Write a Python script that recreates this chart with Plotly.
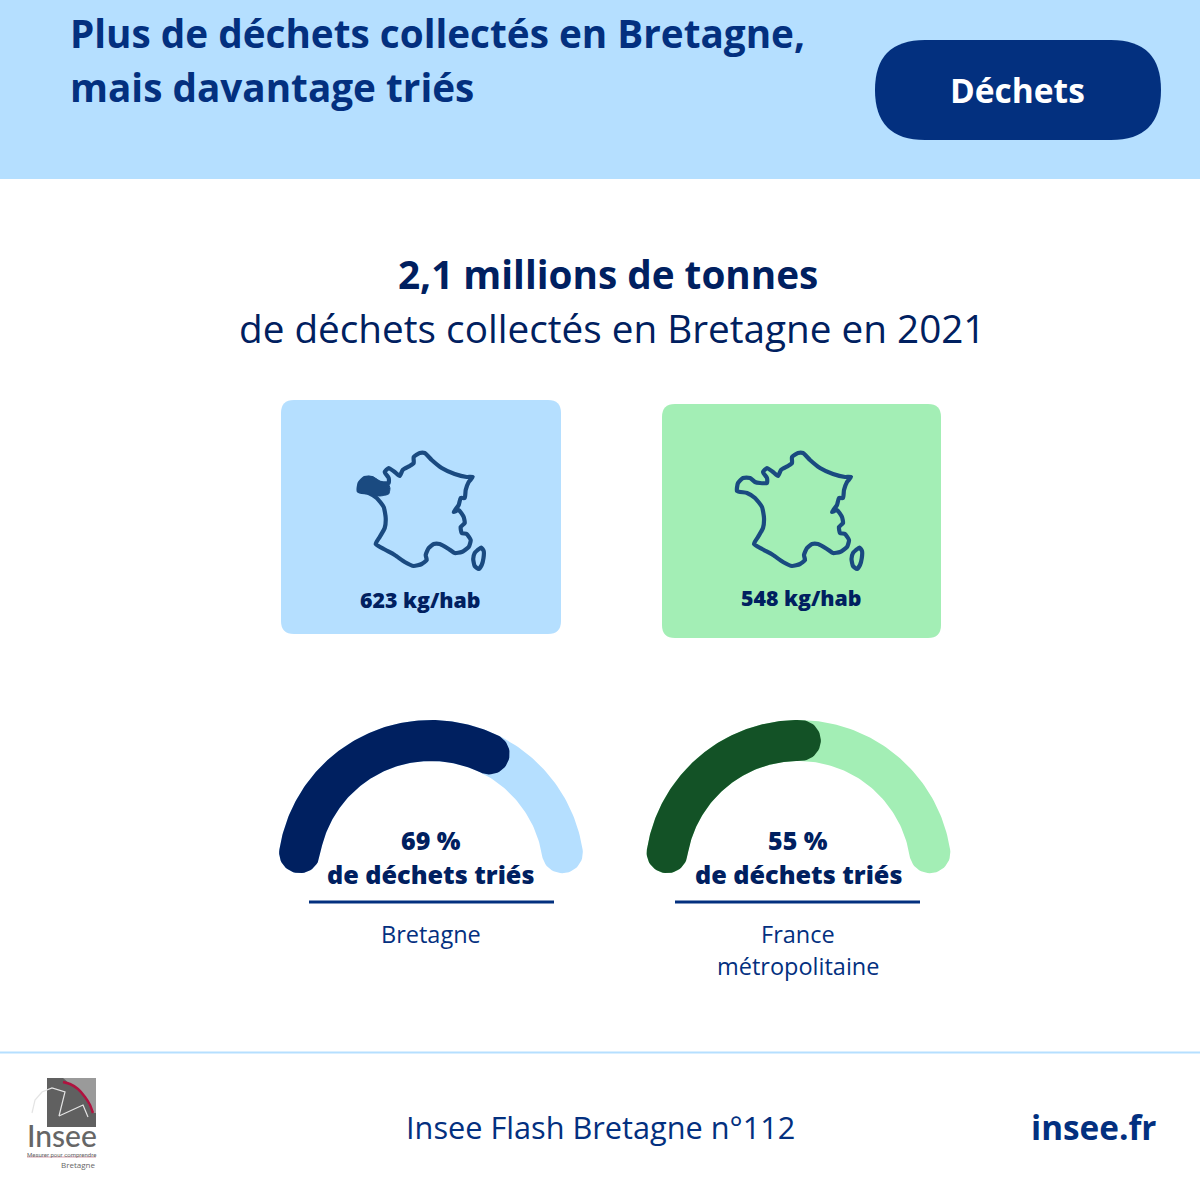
"""Infographic on waste collected in Brittany, redrawn with Plotly."""

import numpy as np
import plotly.graph_objects as go

NAVY = "#002060"
TITLE_BLUE = "#03307F"
MAP_BLUE = "#1A4A80"
LIGHT_BLUE = "#B5DFFF"
LIGHT_GREEN = "#A3EEB5"
DARK_GREEN = "#135226"
FONT = "Open Sans"

# figures shown on the cards and gauges
regions = ["Bretagne", "France<br>métropolitaine"]
kg_per_head = [623, 548]
sorted_pct = [69, 55]
# share of the gauge track actually filled in the picture
gauge_fill = [0.66, 0.505]

# outline of France
france_x = [77, 78, 83, 90, 95, 100, 107, 107, 103, 107, 113, 118, 121, 128, 132, 132, 138, 143, 150, 160, 173, 185, 191,
            187, 184, 183, 179, 177, 172, 177, 182, 183, 179, 180, 185, 189, 187, 180, 173, 167, 158, 152, 147, 144, 145,
            140, 132, 123, 113, 102, 94, 98, 103, 104, 102, 95, 87, 77]
france_y = [91, 83, 78, 78, 82, 83, 83, 78, 72, 68, 72, 76, 70, 66, 63, 57, 53, 53, 60, 68, 74, 77, 77,
            82, 90, 98, 98, 105, 112, 110, 117, 123, 127, 133, 134, 140, 147, 152, 153, 149, 144, 144, 148, 155, 160,
            164, 166, 162, 155, 149, 144, 137, 128, 118, 107, 98, 93, 91]
corsica_x = [201.8, 200, 197, 193, 191.5, 193, 196, 199.5, 202, 201.8]
corsica_y = [158, 165, 169, 166, 159, 153, 150, 147.5, 151, 158]
brittany_x = [78.3, 79.3, 83.3, 88.3, 93.3, 98.3, 103.3, 108.3, 110, 108.7, 100, 91.7, 83.3, 79, 78.3]
brittany_y = [89.3, 83.3, 79, 76.3, 77, 80, 83.3, 84, 88.3, 94, 96, 94.7, 93.3, 92, 89.3]


def rounded_rect(x0, y0, x1, y1, r, color):
    path = (
        f"M{x0 + r},{y0} L{x1 - r},{y0} Q{x1},{y0} {x1},{y0 + r} L{x1},{y1 - r} Q{x1},{y1} {x1 - r},{y1} "
        f"L{x0 + r},{y1} Q{x0},{y1} {x0},{y1 - r} L{x0},{y0 + r} Q{x0},{y0} {x0 + r},{y0} Z"
    )
    return dict(type="path", path=path, fillcolor=color, line_width=0, layer="below")


def text(fig, x, y, label, size, color=NAVY, weight=400, anchor="center", family=FONT):
    fig.add_annotation(
        x=x, y=y, text=label, showarrow=False,
        xanchor=anchor, yanchor="middle", font=dict(family=family, size=size, color=color, weight=weight),
    )


def add_shape_trace(fig, x, y, fill=None, line=None, width=0, spline=False):
    fig.add_trace(go.Scatter(
        x=list(x), y=list(y), mode="lines", fill="toself" if fill else None, fillcolor=fill,
        line=dict(color=line or fill, width=width, shape="spline" if spline else "linear", smoothing=0.5),
        hoverinfo="skip", showlegend=False,
    ))


def arc_band(cx, frac0, frac1, cy=873.5, radius=133, half=20.5, margin=9):
    """Thick arc with round ends; fractions run along the track from left to right."""
    sweep = 180 - 2 * margin
    start = np.radians(margin + frac0 * sweep)
    end = np.radians(margin + frac1 * sweep)
    t = np.linspace(start, end, 120)
    outer_x = cx - (radius + half) * np.cos(t)
    outer_y = cy - (radius + half) * np.sin(t)
    inner_x = cx - (radius - half) * np.cos(t[::-1])
    inner_y = cy - (radius - half) * np.sin(t[::-1])
    # end caps
    cap = np.linspace(0, np.pi, 30)
    end_x = cx - radius * np.cos(end) + half * (-np.cos(end) * np.cos(cap) + np.sin(end) * np.sin(cap))
    end_y = cy - radius * np.sin(end) + half * (-np.sin(end) * np.cos(cap) - np.cos(end) * np.sin(cap))
    start_x = cx - radius * np.cos(start) + half * (np.cos(start) * np.cos(cap) - np.sin(start) * np.sin(cap))
    start_y = cy - radius * np.sin(start) + half * (np.sin(start) * np.cos(cap) + np.cos(start) * np.sin(cap))
    return np.r_[outer_x, end_x, inner_x, start_x], np.r_[outer_y, end_y, inner_y, start_y]


fig = go.Figure()

shapes = [
    dict(type="rect", x0=0, x1=1200, y0=0, y1=179, fillcolor=LIGHT_BLUE, line_width=0, layer="below"),
    rounded_rect(875, 40, 1161, 140, 50, TITLE_BLUE),
    rounded_rect(281, 400, 561, 634, 13, LIGHT_BLUE),
    rounded_rect(662, 404, 941, 638, 13, LIGHT_GREEN),
    dict(type="line", x0=0, x1=1200, y0=1052.5, y1=1052.5, line=dict(color=LIGHT_BLUE, width=2)),
    dict(type="line", x0=309, x1=554, y0=902, y1=902, line=dict(color=TITLE_BLUE, width=3)),
    dict(type="line", x0=675, x1=920, y0=902, y1=902, line=dict(color=TITLE_BLUE, width=3)),
    # logo
    dict(type="rect", x0=47, x1=96, y0=1078, y1=1127, fillcolor="#606060", line_width=0, layer="below"),
    dict(type="line", x0=27, x1=96, y0=1157, y1=1157, line=dict(color="#D9A0AE", width=1)),
]

# header and headline
text(fig, 68, 33, "Plus de déchets collectés en Bretagne,", 38.7, TITLE_BLUE, 700, "left")
text(fig, 68, 87, "mais davantage triés", 38.7, TITLE_BLUE, 700, "left")
text(fig, 1017, 90, "Déchets", 33.5, "white", 700)
text(fig, 608, 274, "2,1 millions de tonnes", 38.7, NAVY, 700)
text(fig, 612.5, 328, "de déchets collectés en Bretagne en 2021", 38.7, NAVY)

# map cards
for offset_x, kg, card_x, card_y in zip([281.7, 660], kg_per_head, [420, 801], [599, 597]):
    add_shape_trace(fig, [v + offset_x for v in france_x], [v + 400 for v in france_y],
                    line=MAP_BLUE, width=4.2, spline=True)
    add_shape_trace(fig, [v + offset_x for v in corsica_x], [v + 400 for v in corsica_y],
                    line=MAP_BLUE, width=4.2, spline=True)
    text(fig, card_x, card_y, f"{kg} kg/hab", 21.3, NAVY, 800)
add_shape_trace(fig, [v + 280 for v in brittany_x], [v + 400 for v in brittany_y], fill=MAP_BLUE, line=MAP_BLUE, width=1, spline=True)

# gauges
for cx, pct, fill, region, track, ink in zip(
    [431, 798.5], sorted_pct, gauge_fill, regions, [LIGHT_BLUE, LIGHT_GREEN], [NAVY, DARK_GREEN]
):
    add_shape_trace(fig, *arc_band(cx, 0, 1), fill=track)
    add_shape_trace(fig, *arc_band(cx, 0, fill), fill=ink)
    text(fig, cx - 0.5, 840, f"{pct} %", 25, NAVY, 800)
    text(fig, cx - 0.5, 874, "de déchets triés", 25.2, NAVY, 800)
    for i, line in enumerate(region.split("<br>")):
        text(fig, cx - 0.5, 933.5 + i * 32, line, 23.5, TITLE_BLUE)

# footer
text(fig, 600, 1127, "Insee Flash Bretagne n°112", 30.7, TITLE_BLUE)
text(fig, 1158, 1127, "insee.fr", 33.3, TITLE_BLUE, 700, "right")

# logo marks
add_shape_trace(fig, [63, 96, 96, 93, 85, 78, 70, 63], [1078, 1078, 1113, 1113, 1097, 1089, 1084, 1078], fill="#9A9A9A")
add_shape_trace(fig, [63, 70, 78, 85, 90, 93], [1082, 1084, 1089, 1097, 1105, 1113], line="#B0123F", width=2.5, spline=True)
add_shape_trace(fig, [32, 35, 42, 52, 65, 59, 83, 88], [1113, 1100, 1092, 1088, 1092, 1116, 1105, 1117], line="#E4E4E4", width=1.2)
text(fig, 62, 1135, "Insee", 30, "#666666", family="Lato", weight=500)
text(fig, 61, 1154, "Mesurer pour comprendre", 6, "#666666", family="Roboto")
text(fig, 97, 1164, "Bretagne", 8, "#666666", anchor="right")

fig.update_xaxes(range=[0, 1200], visible=False, fixedrange=True)
fig.update_yaxes(range=[1200, 0], visible=False, fixedrange=True)
fig.update_layout(
    width=1200, height=1200, margin=dict(l=0, r=0, t=0, b=0),
    plot_bgcolor="white", paper_bgcolor="white", shapes=shapes, showlegend=False,
)
# page body has an 8px default margin
fig.write_html(
    "out.html", config={"displayModeBar": False},
    post_script="document.body.style.margin='0';document.body.style.overflow='hidden';",
)
